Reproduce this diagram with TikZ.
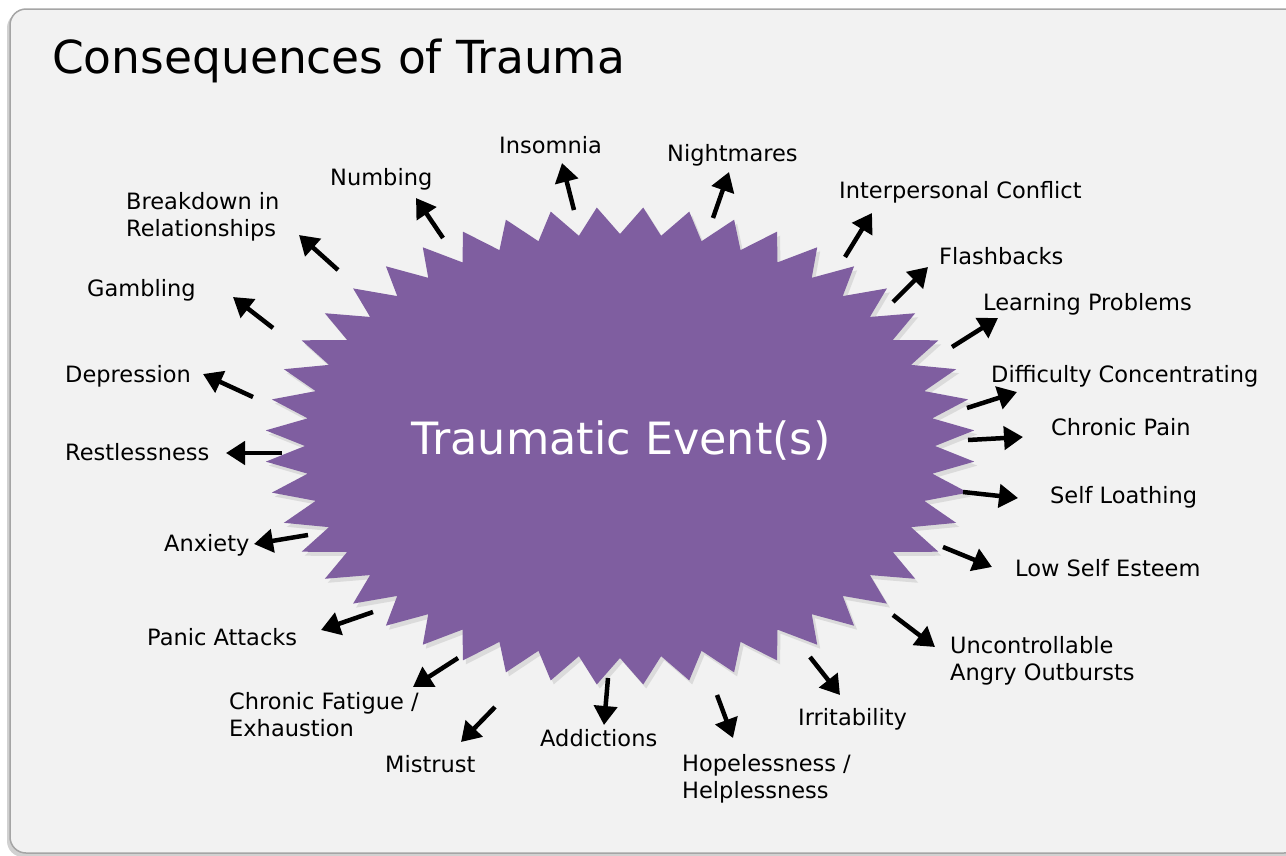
\documentclass[tikz,border=0pt]{standalone}
\usepackage{fontspec}
\setmainfont{DejaVu Sans}
\usetikzlibrary{arrows.meta}

\definecolor{burst}{RGB}{127,94,160}
\definecolor{panel}{RGB}{242,242,242}
\definecolor{rim}{RGB}{165,165,165}

\tikzset{
  effect/.style={font=\fontsize{22.5}{27}\selectfont, text=black, inner sep=0pt, align=left},
  leads/.style={black, line width=4.5pt, -{Triangle[length=19pt,width=23pt]}},
}

\begin{document}
\begin{tikzpicture}[x=1pt,y=-1pt]
        \useasboundingbox (0,0) rectangle (1286,855);
        \clip (0,0) rectangle (1286,855);
        \fill[white] (0,0) rectangle (1286,855);

        \fill[black!18, rounded corners=16pt] (7,12) rectangle (1302,857);
        \filldraw[fill=panel, draw=rim, line width=1.5pt, rounded corners=16pt] (10,9) rectangle (1300,853);

        \node[anchor=base west, font=\fontsize{45.5}{54}\selectfont, inner sep=0pt] (title) at (52,73) {Consequences of Trauma};

        \coordinate (core) at (620,446);
        \fill[black!40, opacity=.25, shift={(623,450)}] (0:315 and 212)
            \foreach \a in {0,7.5,...,352.5} { -- ({\a+3.75}:355 and 239) -- ({\a+7.5}:315 and 212) } -- cycle;
        \fill[burst, shift={(core)}] (0:315 and 212)
            \foreach \a in {0,7.5,...,352.5} { -- ({\a+3.75}:355 and 239) -- ({\a+7.5}:315 and 212) } -- cycle;
        \node[font=\fontsize{44.5}{54}\selectfont, text=white, inner sep=0pt] (event) at (621,441) {Traumatic Event(s)};

        \node[effect, anchor=base west] (insomnia) at (499,153) {Insomnia};
        \node[effect, anchor=base west] (nightmares) at (667,161) {Nightmares};
        \node[effect, anchor=base west] (numbing) at (330,185) {Numbing};
        \node[effect, anchor=north west] (breakdown) at (126,192) {Breakdown in\\Relationships};
        \node[effect, anchor=base west] (gambling) at (87,296) {Gambling};
        \node[effect, anchor=base west] (depression) at (65,382) {Depression};
        \node[effect, anchor=base west] (restless) at (65,460) {Restlessness};
        \node[effect, anchor=base west] (anxiety) at (164,551) {Anxiety};
        \node[effect, anchor=base west] (panic) at (147,645) {Panic Attacks};
        \node[effect, anchor=north west] (fatigue) at (229,692) {Chronic Fatigue /\\Exhaustion};
        \node[effect, anchor=base west] (mistrust) at (385,772) {Mistrust};
        \node[effect, anchor=base west] (addictions) at (540,746) {Addictions};
        \node[effect, anchor=north west] (hopeless) at (682,754) {Hopelessness /\\Helplessness};
        \node[effect, anchor=base west] (irritable) at (798,725) {Irritability};
        \node[effect, anchor=north west] (outbursts) at (950,636) {Uncontrollable\\Angry Outbursts};
        \node[effect, anchor=base west] (esteem) at (1015,576) {Low Self Esteem};
        \node[effect, anchor=base west] (loathing) at (1050,503) {Self Loathing};
        \node[effect, anchor=base west] (pain) at (1051,435) {Chronic Pain};
        \node[effect, anchor=base west] (focus) at (991,382) {Difficulty Concentrating};
        \node[effect, anchor=base west] (learning) at (983,310) {Learning Problems};
        \node[effect, anchor=base west] (flashbacks) at (939,264) {Flashbacks};
        \node[effect, anchor=base west] (conflict) at (839,198) {Interpersonal Conflict};

        \coordinate (insomnia-s) at (574,210);   \coordinate (insomnia-e) at (562,163);
        \coordinate (nightmares-s) at (713,218); \coordinate (nightmares-e) at (729,172);
        \coordinate (numbing-s) at (443,238);    \coordinate (numbing-e) at (416,198);
        \coordinate (breakdown-s) at (338,270);  \coordinate (breakdown-e) at (299,235);
        \coordinate (gambling-s) at (273,328);   \coordinate (gambling-e) at (233,297);
        \coordinate (depression-s) at (253,397); \coordinate (depression-e) at (203,374);
        \coordinate (restless-s) at (282,453);   \coordinate (restless-e) at (226,453);
        \coordinate (anxiety-s) at (308,535);    \coordinate (anxiety-e) at (254,544);
        \coordinate (panic-s) at (373,612);      \coordinate (panic-e) at (321,630);
        \coordinate (fatigue-s) at (458,658);    \coordinate (fatigue-e) at (413,687);
        \coordinate (mistrust-s) at (495,707);   \coordinate (mistrust-e) at (461,742);
        \coordinate (addictions-s) at (608,678); \coordinate (addictions-e) at (604,725);
        \coordinate (hopeless-s) at (717,695);   \coordinate (hopeless-e) at (733,738);
        \coordinate (irritable-s) at (810,657);  \coordinate (irritable-e) at (840,695);
        \coordinate (outbursts-s) at (893,615);  \coordinate (outbursts-e) at (935,647);
        \coordinate (esteem-s) at (943,547);     \coordinate (esteem-e) at (992,567);
        \coordinate (loathing-s) at (963,492);   \coordinate (loathing-e) at (1018,498);
        \coordinate (pain-s) at (968,440);       \coordinate (pain-e) at (1023,437);
        \coordinate (focus-s) at (967,408);      \coordinate (focus-e) at (1017,392);
        \coordinate (learning-s) at (952,347);   \coordinate (learning-e) at (998,318);
        \coordinate (flashbacks-s) at (893,302); \coordinate (flashbacks-e) at (928,267);
        \coordinate (conflict-s) at (845,257);   \coordinate (conflict-e) at (872,213);

        \draw[leads] (insomnia-s) -- (insomnia-e);
        \draw[leads] (nightmares-s) -- (nightmares-e);
        \draw[leads] (numbing-s) -- (numbing-e);
        \draw[leads] (breakdown-s) -- (breakdown-e);
        \draw[leads] (gambling-s) -- (gambling-e);
        \draw[leads] (depression-s) -- (depression-e);
        \draw[leads] (restless-s) -- (restless-e);
        \draw[leads] (anxiety-s) -- (anxiety-e);
        \draw[leads] (panic-s) -- (panic-e);
        \draw[leads] (fatigue-s) -- (fatigue-e);
        \draw[leads] (mistrust-s) -- (mistrust-e);
        \draw[leads] (addictions-s) -- (addictions-e);
        \draw[leads] (hopeless-s) -- (hopeless-e);
        \draw[leads] (irritable-s) -- (irritable-e);
        \draw[leads] (outbursts-s) -- (outbursts-e);
        \draw[leads] (esteem-s) -- (esteem-e);
        \draw[leads] (loathing-s) -- (loathing-e);
        \draw[leads] (pain-s) -- (pain-e);
        \draw[leads] (focus-s) -- (focus-e);
        \draw[leads] (learning-s) -- (learning-e);
        \draw[leads] (flashbacks-s) -- (flashbacks-e);
        \draw[leads] (conflict-s) -- (conflict-e);
    \end{tikzpicture}
\end{document}
